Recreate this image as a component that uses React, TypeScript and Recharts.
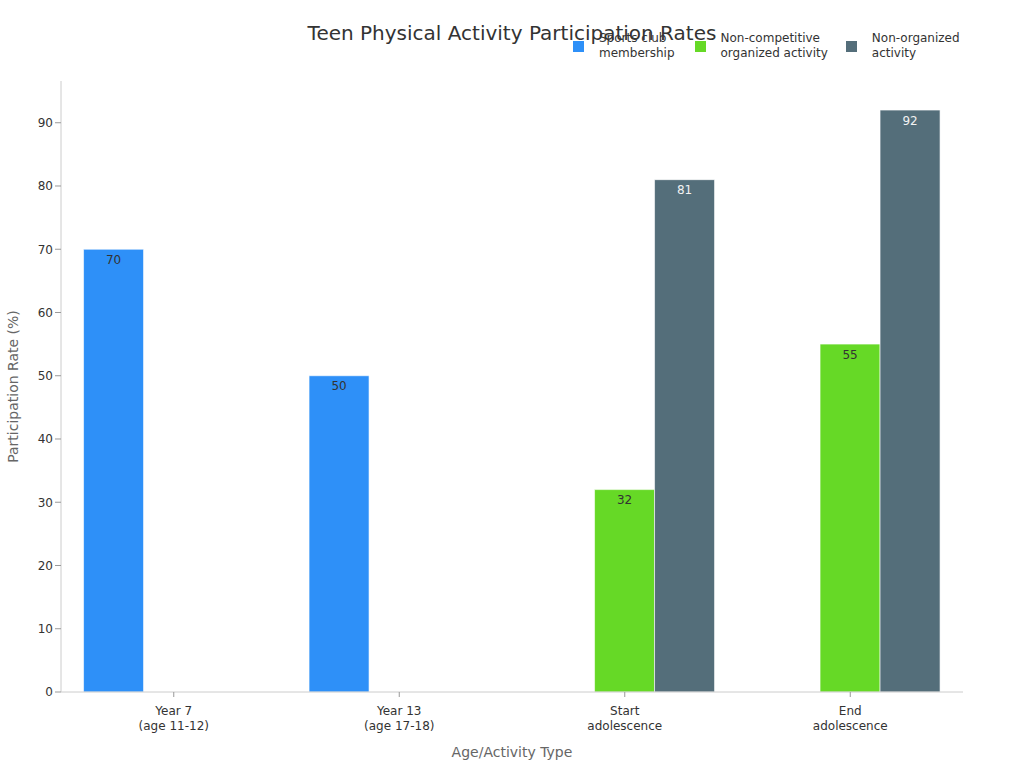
import React from "react";
import { BarChart, Bar, XAxis, YAxis, Legend, LabelList } from "recharts";

const categories = ["Year 7\n(age 11-12)", "Year 13\n(age 17-18)", "Start\nadolescence", "End\nadolescence"];
const sportsClub: (number | null)[] = [70, 50, null, null];
const nonCompetitive: (number | null)[] = [null, null, 32, 55];
const nonOrganized: (number | null)[] = [null, null, 81, 92];
const yTicks = [0, 10, 20, 30, 40, 50, 60, 70, 80, 90];

const seriesInfo = [
  { key: "sports", lines: ["Sports club", "membership"], color: "#2E90F8", labelColor: "#333333" },
  { key: "noncomp", lines: ["Non-competitive", "organized activity"], color: "#66D926", labelColor: "#333333" },
  { key: "nonorg", lines: ["Non-organized", "activity"], color: "#546E7A", labelColor: "#F2F2F2" },
];

const data = categories.map((c, i) => ({
  name: c,
  sports: sportsClub[i],
  noncomp: nonCompetitive[i],
  nonorg: nonOrganized[i],
}));

const FONT = "DejaVu Sans, sans-serif";

const XTick = (props: any) => {
  const { x, y, payload } = props;
  const lines = String(payload.value).split("\n");
  return (
    <g transform={`translate(${x},${y})`}>
      <text textAnchor="middle" fill="#333" fontSize={12} fontFamily={FONT}>
        {lines.map((l, i) => (
          <tspan key={i} x={0} dy={i === 0 ? 16 : 15}>
            {l}
          </tspan>
        ))}
      </text>
    </g>
  );
};

const LegendContent = () => (
  <div style={{ display: "flex", fontFamily: FONT, fontSize: 12, color: "#333", height: 30 }}>
    {seriesInfo.map((s, idx) => (
      <div key={s.key} style={{ display: "flex", alignItems: "center", marginRight: idx === 1 ? 18 : 20 }}>
        <div style={{ width: 11, height: 11, background: s.color, marginRight: 15 }} />
        <div style={{ lineHeight: "15px" }}>
          {s.lines.map((l, i) => (
            <div key={i}>{l}</div>
          ))}
        </div>
      </div>
    ))}
  </div>
);

export default function App() {
  return (
    <div style={{ position: "absolute", left: 0, top: 0, width: 1024, height: 768, background: "#fff" }}>
      <div
        style={{
          position: "absolute",
          left: 0,
          width: 1024,
          top: 21,
          textAlign: "center",
          fontFamily: FONT,
          fontSize: 20,
          color: "#333",
          zIndex: 0,
        }}
      >
        Teen Physical Activity Participation Rates
      </div>
      <BarChart
        width={1024}
        height={768}
        data={data}
        margin={{ top: 51, right: 61, bottom: 0, left: 0 }}
        barCategoryGap="10%"
        barGap={0}
      >
        <XAxis
          dataKey="name"
          tick={<XTick />}
          interval={0}
          tickLine={{ stroke: "#999" }}
          axisLine={{ stroke: "#ccc" }}
          tickSize={5}
          label={{ value: "Age/Activity Type", position: "insideBottom", offset: 11, fill: "#666", fontSize: 14, fontFamily: FONT }}
          height={76}
        />
        <YAxis
          width={61}
          domain={[0, 96.6]}
          ticks={yTicks}
          tick={{ fill: "#333", fontSize: 12, fontFamily: FONT }}
          tickLine={{ stroke: "#999" }}
          axisLine={{ stroke: "#ccc" }}
          tickSize={6}
          label={{ value: "Participation Rate (%)", angle: -90, position: "insideLeft", offset: 13, fill: "#666", fontSize: 14, fontFamily: FONT, style: { textAnchor: "middle" } }}
        />
        <Legend
          verticalAlign="top"
          content={<LegendContent />}
          wrapperStyle={{ position: "absolute", left: 573, top: 31, width: 440, height: 30 }}
        />
        {seriesInfo.map((s) => (
          <Bar
            key={s.key}
            dataKey={s.key}
            fill={s.color}
            stroke="rgba(255,255,255,0.6)"
            strokeWidth={1}
            isAnimationActive={false}
          >
            <LabelList dataKey={s.key} position="insideTop" offset={6} fill={s.labelColor} fontSize={12} fontFamily={FONT} />
          </Bar>
        ))}
      </BarChart>
    </div>
  );
}
